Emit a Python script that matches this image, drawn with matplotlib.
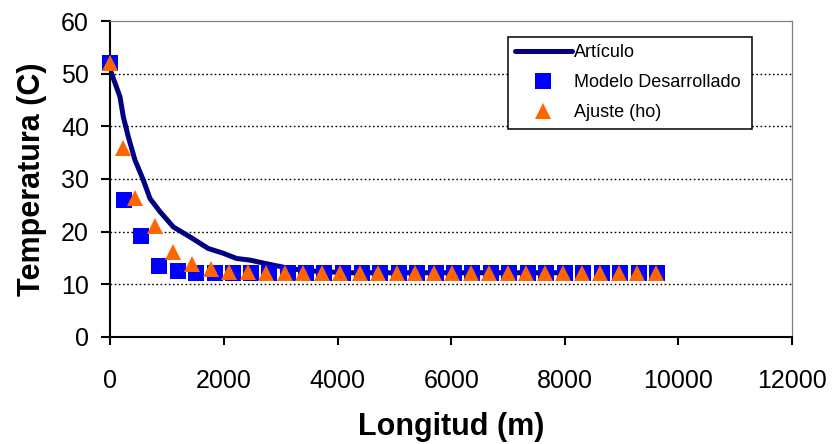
import matplotlib
matplotlib.use("Agg")
import matplotlib.pyplot as plt

plt.rcParams['font.family'] = ['Liberation Sans', 'DejaVu Sans']

# Perfil de temperatura a lo largo de la línea
art_x = [0, 167, 226, 314, 431, 578, 695, 871, 1106, 1400, 1722, 1986,
         2222, 2456, 2750, 3160, 3454, 3746, 4200, 8100]
art_t = [50.6, 45.6, 41.8, 38.0, 33.6, 29.8, 26.3, 23.8, 20.9, 19.0, 16.8,
         15.9, 14.9, 14.6, 13.9, 13.0, 12.6, 12.4, 12.2, 12.2]

mod_x = [0, 234, 544, 860, 1187, 1509, 1842, 2152, 2474, 2795, 3117, 3439,
         3760, 4094, 4427, 4749, 5074, 5399, 5724, 6049, 6374, 6699, 7024,
         7349, 7674, 7999, 8324, 8649, 8974, 9299, 9624]
mod_t = [52.0, 26.0, 19.2, 13.5, 12.6, 12.2, 12.2, 12.2, 12.2, 12.2, 12.2,
         12.2, 12.2, 12.2, 12.2, 12.2, 12.2, 12.2, 12.2, 12.2, 12.2, 12.2,
         12.2, 12.2, 12.2, 12.2, 12.2, 12.2, 12.2, 12.2, 12.2]

aj_x = [0, 222, 439, 784, 1099, 1433, 1766, 2094, 2427, 2737, 3076, 3392,
        3725, 4047, 4386, 4714, 5040, 5366, 5692, 6018, 6344, 6670, 6996,
        7322, 7648, 7974, 8300, 8626, 8952, 9278, 9604]
aj_t = [52.0, 35.8, 26.3, 21.1, 16.2, 13.9, 13.0, 12.4, 12.3, 12.2, 12.2,
        12.2, 12.2, 12.2, 12.2, 12.2, 12.2, 12.2, 12.2, 12.2, 12.2, 12.2,
        12.2, 12.2, 12.2, 12.2, 12.2, 12.2, 12.2, 12.2, 12.2]

fig = plt.figure(figsize=(8.32, 4.44), dpi=100)
ax = fig.add_axes([0.1328, 0.241, 0.8191, 0.7117])

ax.plot(art_x, art_t, color='#000080', lw=3.6, solid_capstyle='round',
        label='Artículo', zorder=3)
ax.plot(mod_x, mod_t, ls='none', marker='s', ms=11.2, mew=0,
        color='#0000FF', label='Modelo Desarrollado', clip_on=False, zorder=4)
ax.plot(aj_x, aj_t, ls='none', marker='^', ms=11.2, mew=0,
        color='#FF6600', label='Ajuste (ho)', clip_on=False, zorder=5)

ax.set_xlim(0, 12000)
ax.set_ylim(0, 60)
ax.set_xticks(range(0, 12001, 2000))
ax.set_yticks(range(0, 61, 10))

# rejilla punteada sólo en las líneas interiores
for yv in range(10, 60, 10):
    ax.axhline(yv, color='black', lw=1.0, ls=(0, (1.2, 1.8)), zorder=1)

for s in ('left', 'bottom'):
    ax.spines[s].set_color('black')
    ax.spines[s].set_linewidth(1.5)
for s in ('top', 'right'):
    ax.spines[s].set_color('#808080')
    ax.spines[s].set_linewidth(0.9)

ax.tick_params(axis='x', direction='out', length=5.8, width=1.5,
               labelsize=18, pad=17)
ax.tick_params(axis='y', direction='out', length=6.5, width=1.5,
               labelsize=18, pad=9)

ax.set_xlabel('Longitud (m)', fontsize=22, fontweight='bold', labelpad=14)
ax.set_ylabel('Temperatura (C)', fontsize=22, fontweight='bold', labelpad=10)

leg = ax.legend(loc='upper left', bbox_to_anchor=(0.6102, 0.7146, 0.2936, 0.2027),
                bbox_transform=fig.transFigure, mode='expand', borderaxespad=0,
                fontsize=13, frameon=True, fancybox=False, framealpha=1,
                edgecolor='black', borderpad=0.4, labelspacing=0.73,
                handlelength=3.15, handletextpad=0.1)
leg.get_frame().set_linewidth(1.1)

fig.savefig('out.png', dpi=100)
